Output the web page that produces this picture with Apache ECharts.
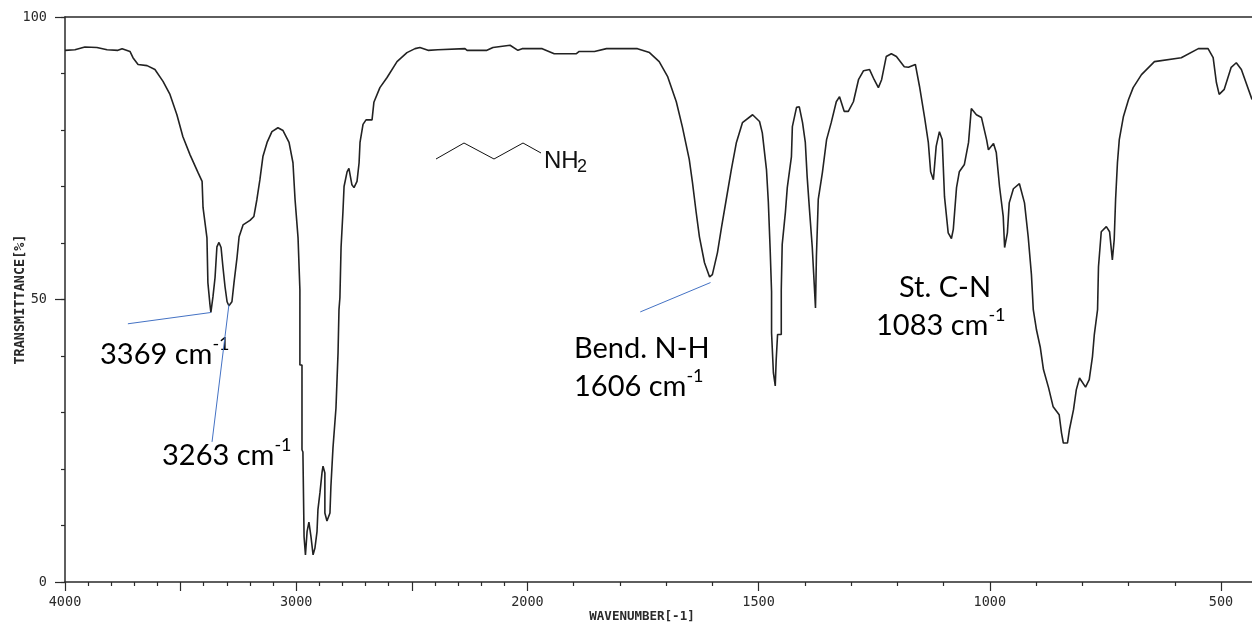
<!DOCTYPE html>
<html>
<head>
<meta charset="utf-8">
<style>html,body{margin:0;padding:0;background:#fff}#c{width:1252px;height:627px}</style>
<script src="https://cdn.jsdelivr.net/npm/echarts@6/dist/echarts.min.js"></script>
</head>
<body>
<div id="c"></div>
<script>
const wavenumbers = [4000,3957,3914,3862,3818,3771,3753,3719,3706,3684,3645,3611,3576,3546,3516,3490,3459,3425,3407,3403,3386,3382,3373,3369,3360,3351,3343,3334,3325,3317,3308,3299,3291,3278,3269,3256,3247,3230,3200,3183,3170,3157,3144,3126,3105,3079,3057,3031,3014,3005,2992,2984,2984,2975,2975,2971,2966,2960,2953,2945,2936,2927,2919,2910,2906,2897,2888,2884,2876,2876,2867,2854,2850,2841,2828,2819,2815,2811,2806,2798,2793,2780,2772,2759,2750,2737,2728,2724,2711,2698,2672,2664,2638,2607,2564,2521,2486,2465,2430,2387,2270,2261,2175,2149,2075,2041,2023,1968,1942,1894,1888,1855,1829,1762,1736,1715,1697,1678,1665,1650,1643,1635,1628,1617,1606,1600,1589,1580,1570,1559,1548,1535,1513,1498,1492,1483,1479,1475,1472,1472,1468,1468,1464,1462,1459,1451,1451,1451,1449,1442,1438,1429,1427,1418,1412,1405,1399,1395,1390,1384,1381,1377,1375,1371,1362,1353,1343,1332,1325,1315,1306,1295,1284,1273,1260,1250,1241,1234,1224,1213,1202,1185,1176,1161,1152,1141,1133,1128,1122,1116,1109,1103,1098,1090,1083,1079,1072,1066,1055,1046,1040,1029,1018,1007,1003,992,986,979,971,968,962,958,949,936,925,917,910,906,899,891,884,873,863,850,845,841,832,828,819,813,806,793,785,778,774,767,765,759,748,741,735,731,728,724,720,711,700,690,672,644,586,549,528,517,510,504,493,478,467,456,433];
const transmittance = [94.1,94.2,94.7,94.6,94.2,94.1,94.4,93.9,92.8,91.6,91.4,90.7,88.6,86.3,82.7,78.8,75.6,72.5,70.9,66.3,60.9,53.0,49.1,47.7,50.5,53.9,59.3,60.1,59.2,55.8,52.3,49.6,48.9,49.6,53.0,57.4,61.1,63.2,64.0,64.7,67.7,71.2,75.3,77.8,79.7,80.4,79.9,77.8,74.2,67.7,60.9,51.7,38.4,38.4,23.4,23.0,8.0,4.8,8.9,10.6,8.0,4.8,6.0,8.9,12.8,15.9,19.5,20.5,19.3,12.2,10.8,12.2,16.8,23.7,30.8,40.6,48.2,50.3,59.2,65.4,70.0,72.6,73.2,70.3,69.8,70.9,74.2,77.8,81.0,81.8,81.8,84.9,87.5,89.3,92.1,93.7,94.4,94.6,94.1,94.2,94.4,94.1,94.1,94.6,95.0,94.1,94.4,94.4,93.5,93.5,93.9,93.9,94.4,94.4,93.7,92.1,89.5,85.0,80.6,74.8,70.7,65.4,61.1,56.5,54.0,54.4,58.3,62.9,67.7,73.0,77.8,81.3,82.7,81.5,79.5,73.0,67.3,58.8,51.4,44.1,43.8,37.0,34.7,39.3,43.8,43.8,48.2,51.7,59.7,65.5,69.8,75.3,80.6,84.0,84.1,81.3,77.8,71.7,65.9,59.3,54.7,48.5,57.6,67.7,72.5,78.3,81.3,85.0,85.9,83.3,83.3,85.0,88.9,90.5,90.7,88.9,87.5,88.9,93.0,93.5,93.0,91.2,91.1,91.6,87.7,82.2,77.8,72.6,71.2,77.1,79.7,78.3,68.2,61.8,60.8,62.4,69.8,72.6,73.9,77.8,83.8,82.7,82.2,78.3,76.5,77.6,76.0,70.0,64.7,59.2,61.8,67.1,69.6,70.5,67.1,61.1,54.4,48.2,44.6,41.6,37.6,34.4,31.0,29.6,26.4,24.6,24.6,26.9,30.5,34.0,36.1,34.5,35.8,39.9,43.8,48.2,55.8,62.0,62.9,62.0,57.0,60.6,67.7,74.2,78.3,82.4,85.4,87.5,89.8,92.1,92.8,94.4,94.4,92.8,88.4,86.3,87.2,91.1,91.9,90.7,85.4];

const xLabelTicks = [4000,3000,2000,1500,1000,500];
const xMajorTicks = [4000,3500,3000,2500,2000,1500,1000,500];
const xMinorTicks = [3900,3800,3700,3600,3400,3300,3200,3100,2900,2800,2700,2600,2400,2300,2200,2100,1900,1800,1700,1600,1400,1300,1200,1100,900,800,700,600];
const xEnd = 433;

const leaderA = [[3728,45.7],[3369,47.7]];
const leaderB = [[3291,49.1],[3364,24.8]];
const leaderC = [[1756,47.8],[1604,53.0]];

// The instrument's wavenumber scale doubles its expansion below 2000 cm-1.
const toAxis = w => w >= 2000 ? 4000 - w : 2000 + (2000 - w) * 2;
const fromAxis = p => p <= 2000 ? 4000 - p : 2000 - (p - 2000) / 2;

const INK = '#2a2a2a';
const PIX = '"DejaVu Sans Mono", monospace';
const BLUE = '#4472c4';
const rich = {
  n: {fontFamily:'Lato', fontSize:29, color:'#111', lineHeight:34, verticalAlign:'bottom'},
  s: {fontFamily:'Lato', fontSize:18, color:'#111', lineHeight:34, verticalAlign:'top'}
};
const note = (x, y, text) => ({type:'text', x, y, silent:true, style:{text, rich, textVerticalAlign:'top'}});
const base = {type:'value', min:toAxis(4000), max:toAxis(xEnd), scale:false, splitLine:{show:false}};
const leader = pts => ({type:'line', data:pts.map(p=>[toAxis(p[0]),p[1]]), symbol:'none', silent:true, lineStyle:{color:BLUE,width:1}, z:3});

const chart = echarts.init(document.getElementById('c'), null, {renderer:'canvas'});
chart.setOption({
  animation:false,
  backgroundColor:'#fff',
  grid:{left:65, right:0, top:17, bottom:45, outerBoundsMode:'none'},
  xAxis:[
    Object.assign({}, base, {
      position:'bottom',
      axisLine:{show:true, onZero:false, lineStyle:{color:INK,width:1.5}},
      axisTick:{show:true, length:9, customValues:xMajorTicks.map(toAxis), lineStyle:{color:INK,width:1.2}},
      axisLabel:{show:true, margin:13, customValues:xLabelTicks.map(toAxis), showMinLabel:true, showMaxLabel:true, hideOverlap:false,
        formatter:v=>String(Math.round(fromAxis(v))), fontFamily:PIX, fontSize:13.5, color:INK}
    }),
    Object.assign({}, base, {
      position:'bottom',
      axisLine:{show:false, onZero:false},
      axisTick:{show:true, length:4, customValues:xMinorTicks.map(toAxis), lineStyle:{color:INK,width:1.2}},
      axisLabel:{show:false}
    }),
    Object.assign({}, base, {
      position:'top',
      axisLine:{show:true, onZero:false, lineStyle:{color:INK,width:1.5}},
      axisTick:{show:false}, axisLabel:{show:false}
    })
  ],
  yAxis:[
    {type:'value', min:0, max:100, interval:50, position:'left', splitLine:{show:false},
      axisLine:{show:true, onZero:false, lineStyle:{color:INK,width:1.5}},
      axisTick:{show:true, length:10, lineStyle:{color:INK,width:1.2}},
      axisLabel:{margin:18, fontFamily:PIX, fontSize:13.5, color:INK},
      name:'TRANSMITTANCE[%]', nameLocation:'middle', nameRotate:90, nameGap:38, nameMoveOverlap:false,
      nameTextStyle:{fontFamily:PIX, fontSize:13.5, color:INK, fontWeight:'bold'}
    },
    {type:'value', min:0, max:100, interval:10, position:'left', splitLine:{show:false},
      axisLine:{show:false, onZero:false},
      axisTick:{show:true, length:4, lineStyle:{color:INK,width:1.2}},
      axisLabel:{show:false}
    }
  ],
  series:[
    {type:'line', name:'Transmittance', data:wavenumbers.map((w,i)=>[toAxis(w),transmittance[i]]),
      symbol:'none', silent:true, lineStyle:{color:'#222',width:1.6}, z:2},
    leader(leaderA), leader(leaderB), leader(leaderC)
  ],
  graphic:[
    {type:'text', x:642, y:617, silent:true, style:{text:'WAVENUMBER[-1]', fontFamily:PIX, fontSize:12.5, fontWeight:'bold', fill:INK, align:'center', verticalAlign:'middle'}},
    note(100,335,'{n|3369 cm}{s|-1}'),
    note(162,436,'{n|3263 cm}{s|-1}'),
    note(574,329,'{n|Bend. N-H}'),
    note(574,367,'{n|1606 cm}{s|-1}'),
    note(899,268,'{n|St. C-N}'),
    note(876,306,'{n|1083 cm}{s|-1}'),
    {type:'polyline', silent:true, shape:{points:[[436,159],[464,143],[494,159],[523,143],[541,153]]}, style:{stroke:'#111',lineWidth:1,fill:null}},
    {type:'text', x:544, y:149, silent:true, style:{text:'NH', fontFamily:'"Liberation Sans"', fontSize:24, fill:'#111'}},
    {type:'text', x:577, y:158, silent:true, style:{text:'2', fontFamily:'"Liberation Sans"', fontSize:18, fill:'#111'}}
  ]
});
</script>
</body>
</html>
